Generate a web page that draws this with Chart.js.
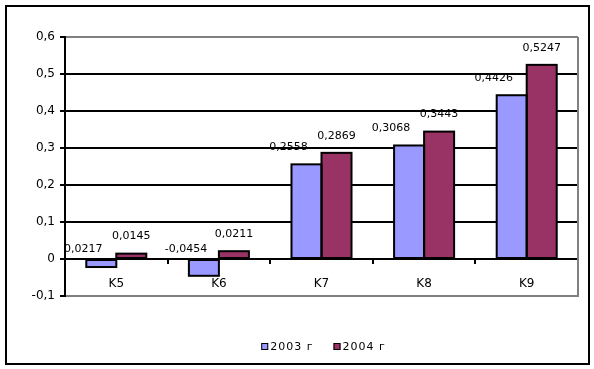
<!DOCTYPE html>
<html>
<head>
<meta charset="utf-8">
<script src="https://cdn.jsdelivr.net/npm/chart.js@4/dist/chart.umd.min.js"></script>
<style>
  html, body { margin: 0; padding: 0; background: #fff; }
  #wrap { width: 594px; height: 369px; }
</style>
</head>
<body>
<div id="wrap"><canvas id="chart" width="594" height="369"></canvas></div>
<script>
// данные с картинки
const categories = ['K5', 'K6', 'K7', 'K8', 'K9'];
const series2003 = [-0.0217, -0.0454, 0.2558, 0.3068, 0.4426];
const series2004 = [0.0145, 0.0211, 0.2869, 0.3443, 0.5247];
const labels2003 = ['0,0217', '-0,0454', '0,2558', '0,3068', '0,4426'];
const labels2004 = ['0,0145', '0,0211', '0,2869', '0,3443', '0,5247'];
const seriesNames = ['2003 г', '2004 г'];
const yTicks = [-0.1, 0, 0.1, 0.2, 0.3, 0.4, 0.5, 0.6];

const FONT = "'DejaVu Sans', sans-serif";
const fmt = v => String(Math.round(v * 10) / 10).replace('.', ',');

// контуры столбиков, подписи, рамки, легенда
const extras = {
    id: 'extras',
    afterDatasetsDraw(chart) {
        const ctx = chart.ctx;
        const texts = [labels2003, labels2004];
        const shift = [-18, 0];
        ctx.save();
        ctx.strokeStyle = '#000';
        ctx.lineWidth = 2;
        chart.data.datasets.forEach((ds, i) => {
            chart.getDatasetMeta(i).data.forEach(bar => {
                const top = Math.min(bar.y, bar.base);
                const h = Math.abs(bar.base - bar.y);
                ctx.strokeRect(bar.x - bar.width / 2, top, bar.width, h);
            });
        });
        ctx.font = '11px ' + FONT;
        ctx.fillStyle = '#000';
        ctx.textAlign = 'center';
        ctx.textBaseline = 'middle';
        chart.data.datasets.forEach((ds, i) => {
            chart.getDatasetMeta(i).data.forEach((bar, j) => {
                const v = ds.data[j];
                const y = v >= 0 ? bar.y - 17 : bar.base - 11;
                ctx.fillText(texts[i][j], bar.x + shift[i], y);
            });
        });
        ctx.restore();
    },
    afterDraw(chart) {
        const ctx = chart.ctx;
        const a = chart.chartArea;
        ctx.save();
        // правая граница области построения
        ctx.strokeStyle = '#808080';
        ctx.lineWidth = 2;
        ctx.beginPath();
        ctx.moveTo(a.right, a.top);
        ctx.lineTo(a.right, a.bottom + 1);
        ctx.stroke();
        // внешняя рамка
        ctx.strokeStyle = '#000';
        ctx.strokeRect(6, 6, 583, 358);

        // легенда
        ctx.font = '11px ' + FONT;
        ctx.letterSpacing = '1px';
        ctx.textBaseline = 'middle';
        ctx.textAlign = 'left';
        const gap = 20, box = 7;
        const widths = seriesNames.map(n => ctx.measureText(n).width);
        const total = widths.reduce((s, w) => s + box + 2 + w, 0) + gap;
        let x = (a.left + a.right) / 2 + 2 - total / 2;
        const y = 347;
        chart.data.datasets.forEach((ds, i) => {
            ctx.fillStyle = ds.backgroundColor;
            ctx.fillRect(x, y - 4, box, box);
            ctx.strokeStyle = '#000';
            ctx.lineWidth = 1;
            ctx.strokeRect(x + 0.5, y - 3.5, box - 1, box - 1);
            ctx.fillStyle = '#000';
            ctx.fillText(seriesNames[i], x + box + 2, y);
            x += box + 2 + widths[i] + gap;
        });
        ctx.restore();
    }
};

new Chart(document.getElementById('chart'), {
    type: 'bar',
    data: {
        labels: categories,
        datasets: [
            { label: seriesNames[0], data: series2003, backgroundColor: '#9999FF' },
            { label: seriesNames[1], data: series2004, backgroundColor: '#993366' }
        ]
    },
    options: {
        responsive: false,
        animation: false,
        layout: { padding: { top: 37, right: 16, bottom: 73, left: 5 } },
        datasets: {
            bar: {
                categoryPercentage: 0.585,
                barPercentage: 1,
                borderWidth: 0,
                inflateAmount: 0
            }
        },
        plugins: {
            legend: { display: false },
            tooltip: { enabled: false }
        },
        scales: {
            x: {
                position: { y: 0 },
                grid: {
                    drawOnChartArea: false,
                    tickLength: 4,
                    tickColor: '#000',
                    lineWidth: 2
                },
                border: { color: '#000', width: 2 },
                ticks: { color: '#000', font: { family: FONT, size: 12 }, padding: 14 }
            },
            y: {
                min: -0.1,
                max: 0.6,
                afterBuildTicks: s => { s.ticks = yTicks.map(v => ({ value: v })); },
                afterFit: s => { s.width = 60; },
                grid: {
                    color: c => (c.tick && (c.tick.value === 0.6 || c.tick.value === -0.1)) ? '#808080' : '#000',
                    lineWidth: 2,
                    tickLength: 5,
                    tickColor: '#000'
                },
                border: { color: '#000', width: 2 },
                ticks: {
                    color: '#000',
                    padding: 5,
                    font: { family: FONT, size: 12 },
                    callback: v => fmt(v)
                }
            }
        }
    },
    plugins: [extras]
});
</script>
</body>
</html>
